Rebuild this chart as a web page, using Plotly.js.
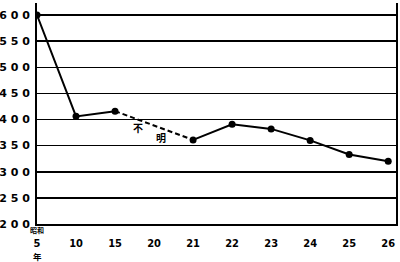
<!DOCTYPE html>
<html><head><meta charset="utf-8">
<script src="https://cdn.plot.ly/plotly-3.0.1.min.js"></script>
<style>body{margin:0;background:#fff}#c{width:400px;height:262px}</style>
</head><body><div id="c"></div>
<script>
const years = ['5','10','15','20','21','22','23','24','25','26'];
const values = [600, 406, 416, null, 361, 391, 382, 360, 333, 320];
const yTicks = [200,250,300,350,400,450,500,550,600];
const yTickText = ['2 0 0','2 5 0','3 0 0','3 5 0','4 0 0','4 5 0','5 0 0','5 5 0','6 0 0'];

const idx = years.map((_, i) => i);
const gapStart = 2, gapEnd = 4;

const traces = [
  {x: idx.slice(0, gapStart + 1), y: values.slice(0, gapStart + 1), mode: 'lines+markers',
   line: {color: '#000', width: 2}, marker: {color: '#000', size: 7}, hoverinfo: 'none'},
  {x: [idx[gapStart], idx[gapEnd]], y: [values[gapStart], values[gapEnd]], mode: 'lines',
   line: {color: '#000', width: 2, dash: '5px,3px'}, hoverinfo: 'none'},
  {x: idx.slice(gapEnd), y: values.slice(gapEnd), mode: 'lines+markers',
   line: {color: '#000', width: 2}, marker: {color: '#000', size: 7}, hoverinfo: 'none'}
];

const font = {family: 'DejaVu Sans', size: 11, color: '#000', weight: 'bold'};
const layout = {
  width: 400, height: 262,
  margin: {l: 37, r: 4, t: 3, b: 38},
  paper_bgcolor: '#fff', plot_bgcolor: '#fff',
  showlegend: false,
  font: font,
  xaxis: {range: [0, 9.2], tickvals: idx, ticktext: years, showgrid: false, zeroline: false,
          showline: true, linecolor: '#000', linewidth: 2, mirror: false,
          ticks: '', ticklabelstandoff: 8, tickfont: {family: 'DejaVu Sans Condensed', size: 11, color: '#000', weight: 'bold'}},
  yaxis: {range: [200, 623], tickvals: yTicks, ticktext: yTickText, showgrid: true, gridcolor: '#000', gridwidth: 1.5,
          zeroline: false, showline: true, linecolor: '#000', linewidth: 2, mirror: true, ticks: '',
          ticklabelstandoff: 3, tickfont: {family: 'DejaVu Sans', size: 11, color: '#000', weight: 'bold'}},
  annotations: [
    {x: 2.6, y: 385, text: '不', showarrow: false, font: {family: 'Noto Sans CJK JP', size: 10, color: '#000'}},
    {x: 3.18, y: 366, text: '明', showarrow: false, font: {family: 'Noto Sans CJK JP', size: 10, color: '#000'}},
    {x: 0, y: 200, yshift: -6, text: '昭和', showarrow: false, font: {family: 'Noto Sans CJK JP', size: 7, color: '#000', weight: 'bold'}},
    {x: 0, y: 200, yshift: -32, text: '年', showarrow: false, font: {family: 'Noto Sans CJK JP', size: 8.5, color: '#000', weight: 'bold'}}
  ]
};
Plotly.newPlot('c', traces, layout, {staticPlot: true});
</script></body></html>
